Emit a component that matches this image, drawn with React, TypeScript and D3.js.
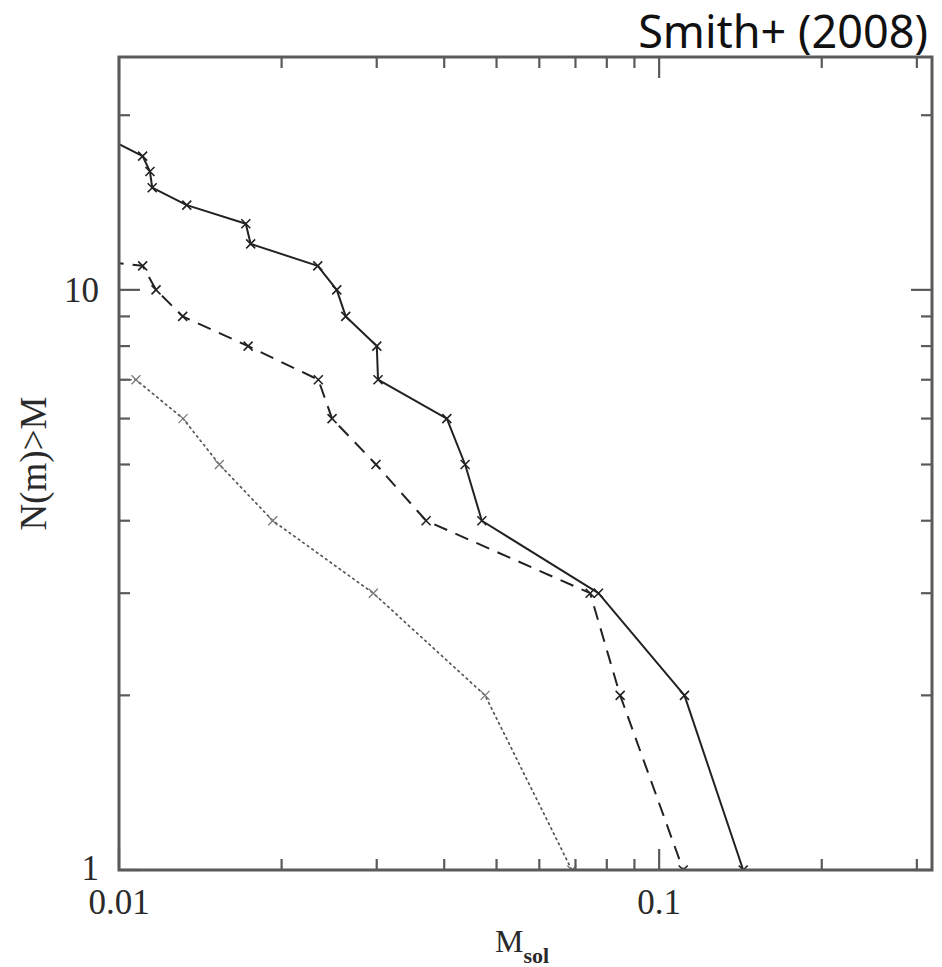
import React from "react";
import * as d3 from "d3";

// Cumulative counts N(m) > M for three samples (mass in solar masses)
const solidMass = [0.0098, 0.01106, 0.01141, 0.01152, 0.01335, 0.01717, 0.01753, 0.02333, 0.0253, 0.02629, 0.03001, 0.03017, 0.04045, 0.04373, 0.04696, 0.0772, 0.1114, 0.1431];
const solidN = [18, 17, 16, 15, 14, 13, 12, 11, 10, 9, 8, 7, 6, 5, 4, 3, 2, 1];

const dashedMass = [0.00486, 0.01106, 0.01171, 0.01312, 0.01734, 0.02339, 0.0248, 0.02991, 0.03703, 0.07452, 0.08469, 0.1108];
const dashedN = [12, 11, 10, 9, 8, 7, 6, 5, 4, 3, 2, 1];

const dottedMass = [0.0095, 0.01075, 0.01314, 0.01534, 0.01926, 0.02957, 0.04762, 0.06892];
const dottedN = [7, 7, 6, 5, 4, 3, 2, 1];

const xDomain = [0.01, 0.32];
const yDomain = [1, 25.2];
const xMajorTicks = [0.01, 0.1];
const xMajorLabels = ["0.01", "0.1"];
const xMinorTicks = [0.02, 0.03, 0.04, 0.05, 0.06, 0.07, 0.08, 0.09, 0.2, 0.3];
const yMajorTicks = [1, 10];
const yMajorLabels = ["1", "10"];
const yMinorTicks = [2, 3, 4, 5, 6, 7, 8, 9, 20];

const title = "Smith+ (2008)";
const yTitle = "N(m)>M";

const W = 942;
const H = 967;
const L = 119;
const T = 57;
const PW = 813;
const PH = 813;

export default function App() {
  const x = d3.scaleLog().domain(xDomain).range([L, L + PW]);
  const y = d3.scaleLog().domain(yDomain).range([T + PH, T]);

  const series = [
    { m: solidMass, n: solidN, dash: undefined as string | undefined, color: "#222", w: 2, mc: "#222", mw: 1.6 },
    { m: dashedMass, n: dashedN, dash: "14 9", color: "#222", w: 2, mc: "#222", mw: 1.6 },
    { m: dottedMass, n: dottedN, dash: "1.6 4", color: "#555", w: 1.7, mc: "#777", mw: 1.2 },
  ];

  const line = d3
    .line<[number, number]>()
    .x((d) => x(d[0]))
    .y((d) => y(d[1]));

  const axisColor = "#5a5a5a";
  const serif = "'Liberation Serif', 'DejaVu Serif', serif";
  const major = 21;
  const minor = 11;
  const ms = 4.5;

  return (
    <svg
      width={W}
      height={H}
      style={{ position: "absolute", left: 0, top: 0, display: "block", background: "#fff" }}
    >
      <defs>
        <clipPath id="plotclip">
          <rect x={L} y={T} width={PW} height={PH} />
        </clipPath>
      </defs>
      <rect x={0} y={0} width={W} height={H} fill="#fff" />

      {/* title */}
      <text
        x={928}
        y={48}
        textAnchor="end"
        fontFamily="'Noto Sans', 'Open Sans', sans-serif"
        fontSize={45}
        fill="#111"
      >
        {title}
      </text>

      {/* series */}
      <g clipPath="url(#plotclip)">
        {series.map((s, i) => {
          const pts = s.m.map((m, j) => [m, s.n[j]] as [number, number]);
          return (
            <g key={i}>
              <path
                d={line(pts) || ""}
                fill="none"
                stroke={s.color}
                strokeWidth={s.w}
                strokeDasharray={s.dash}
                strokeLinecap={i === 2 ? "round" : "butt"}
                strokeLinejoin="round"
              />
              {pts.map((p, j) => {
                const cx = x(p[0]);
                const cy = y(p[1]);
                return (
                  <path
                    key={j}
                    d={`M${cx - ms},${cy - ms}L${cx + ms},${cy + ms}M${cx - ms},${cy + ms}L${cx + ms},${cy - ms}`}
                    stroke={s.mc}
                    strokeWidth={s.mw}
                    fill="none"
                  />
                );
              })}
            </g>
          );
        })}
      </g>

      {/* ticks */}
      <g stroke={axisColor} strokeWidth={2.2}>
        {xMajorTicks.concat(xMinorTicks).map((v, i) => {
          const len = i < xMajorTicks.length ? major : minor;
          const px = x(v);
          return (
            <g key={"xt" + i}>
              <line x1={px} x2={px} y1={T + PH} y2={T + PH - len} />
              <line x1={px} x2={px} y1={T} y2={T + len} />
            </g>
          );
        })}
        {yMajorTicks.concat(yMinorTicks).map((v, i) => {
          const len = i < yMajorTicks.length ? major : minor;
          const py = y(v);
          return (
            <g key={"yt" + i}>
              <line x1={L} x2={L + len} y1={py} y2={py} />
              <line x1={L + PW} x2={L + PW - len} y1={py} y2={py} />
            </g>
          );
        })}
      </g>

      {/* frame */}
      <rect x={L} y={T} width={PW} height={PH} fill="none" stroke={axisColor} strokeWidth={3} />

      {/* tick labels */}
      <g fontFamily={serif} fontSize={35} fill="#2a2a2a">
        {yMajorTicks.map((v, i) => (
          <text key={"yl" + i} x={99} y={y(v) + (v === 1 ? 10 : 12)} textAnchor="end">
            {yMajorLabels[i]}
          </text>
        ))}
        {xMajorTicks.map((v, i) => (
          <text key={"xl" + i} x={x(v)} y={914} textAnchor="middle">
            {xMajorLabels[i]}
          </text>
        ))}
      </g>

      {/* axis titles */}
      <text x={522} y={952} textAnchor="middle" fontFamily={serif} fontSize={32} fill="#2a2a2a">
        M
        <tspan dy={11} fontSize={22} fontWeight="bold">
          sol
        </tspan>
      </text>
      <text
        transform={`translate(46,${T + PH / 2}) rotate(-90)`}
        textAnchor="middle"
        fontFamily={serif}
        fontSize={37}
        fill="#2a2a2a"
      >
        {yTitle}
      </text>
    </svg>
  );
}
